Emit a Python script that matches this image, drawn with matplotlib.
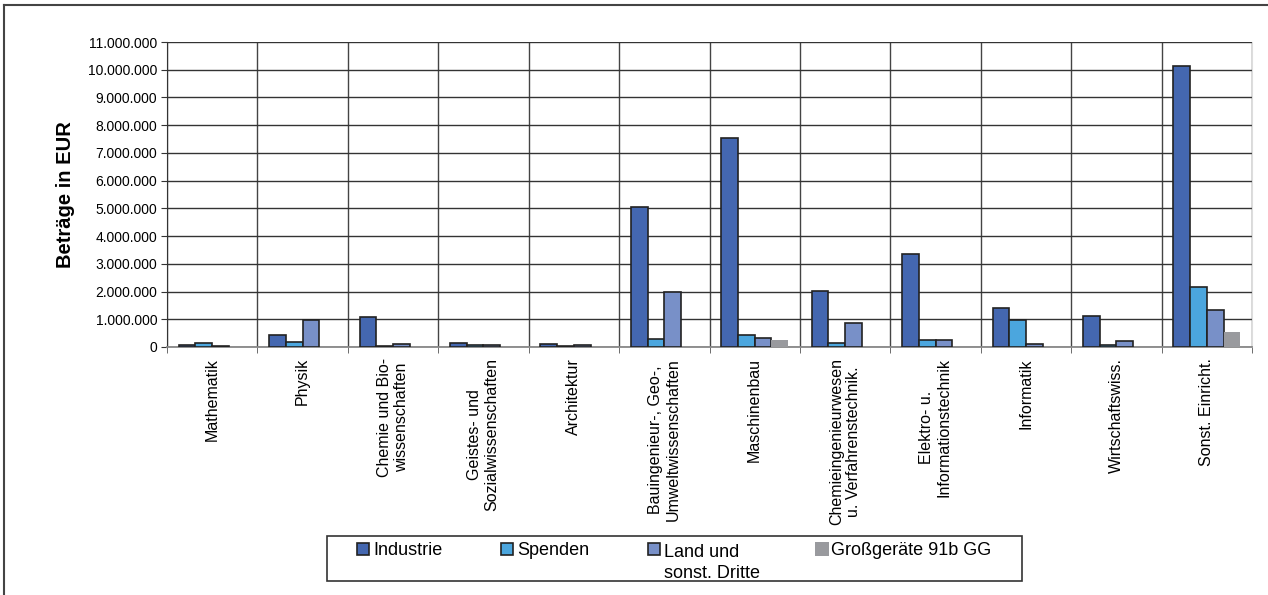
import numpy as np
import matplotlib
matplotlib.use("Agg")
import matplotlib.pyplot as plt
from matplotlib.ticker import FuncFormatter, MultipleLocator, FixedLocator
from matplotlib.patches import Rectangle
from matplotlib.lines import Line2D

plt.rcParams['font.family'] = ['Liberation Sans', 'DejaVu Sans']

kategorien = ["Mathematik", "Physik", "Chemie und Bio-\nwissenschaften",
              "Geistes- und\nSozialwissenschaften", "Architektur",
              "Bauingenieur-, Geo-,\nUmweltwissenschaften", "Maschinenbau",
              "Chemieingenieurwesen\nu. Verfahrenstechnik.",
              "Elektro- u.\nInformationstechnik", "Informatik",
              "Wirtschaftswiss.", "Sonst. Einricht."]

industrie = [60000, 430000, 1090000, 150000, 120000, 5040000, 7550000,
             2020000, 3350000, 1410000, 1130000, 10120000]
spenden = [160000, 170000, 30000, 80000, 40000, 300000, 430000,
           130000, 260000, 970000, 80000, 2150000]
land = [30000, 970000, 120000, 70000, 90000, 1970000, 340000,
        880000, 260000, 120000, 200000, 1330000]
grossgeraete = [0, 0, 0, 0, 0, 0, 260000, 0, 0, 0, 0, 540000]

serien = ["Industrie", "Spenden", "Land und\nsonst. Dritte", "Großgeräte 91b GG"]
farben = ['#4467B0', '#4BA6DE', '#7890C8', '#999A9E']

W, H = 1268, 595
fig = plt.figure(figsize=(W/100, H/100), dpi=100)
ax = fig.add_axes([167/W, 1-347/H, (1252-167)/W, 305/H])

def px(x, y):
    # Pixel (von oben links) -> Figurkoordinaten
    return x/W, 1-y/H

x = np.arange(len(kategorien))
w = 0.185
werte = [industrie, spenden, land, grossgeraete]
for i, (v, c) in enumerate(zip(werte, farben)):
    if i < 3:
        ax.bar(x + (i-1.5)*w, v, w, color=c, edgecolor='#222222', linewidth=1.2, zorder=3)
    else:
        ax.bar(x + (i-1.5)*w, v, w, color=c, linewidth=0, zorder=3)

ax.set_xlim(-0.5, len(kategorien)-0.5)
ax.set_ylim(0, 11000000)
ax.yaxis.set_major_locator(MultipleLocator(1000000))
ax.yaxis.set_major_formatter(FuncFormatter(lambda v, p: f"{int(v):,}".replace(',', '.')))
ax.tick_params(axis='y', labelsize=10, length=4, color='#333333', pad=3)

ax.set_xticks(x)
ax.set_xticklabels(kategorien, rotation=90, ha='center', va='top',
                   multialignment='center', fontsize=11.5)
ax.xaxis.set_minor_locator(FixedLocator(np.arange(-0.5, len(kategorien), 1)))
ax.tick_params(axis='x', which='major', length=0, pad=8)
ax.tick_params(axis='x', which='minor', length=4, color='#555555')

ax.grid(axis='y', which='major', color='#333333', linewidth=1.0, zorder=0)
ax.grid(axis='x', which='minor', color='#444444', linewidth=1.0, zorder=0)
ax.set_axisbelow(True)

ax.spines['top'].set_visible(False)
ax.spines['right'].set_color('#dddddd')
ax.spines['bottom'].set_color('#888888')
ax.spines['bottom'].set_linewidth(1.3)
ax.spines['left'].set_color('#333333')

ax.set_ylabel("Beträge in EUR", fontsize=14.5, fontweight='bold')
ax.yaxis.set_label_coords((75-167)/1085, 0.5)

# Legende
x0, y0 = px(327, 581)
x1, y1 = px(1022, 536)
fig.add_artist(Rectangle((x0, y0), x1-x0, y1-y0, transform=fig.transFigure,
                         facecolor='white', edgecolor='#333333', linewidth=1.2))
leg_x = [357, 501, 648, 815]
for i, (name, c) in enumerate(zip(serien, farben)):
    if i < 3:
        hx, hy = px(leg_x[i], 555)
        fig.add_artist(Rectangle((hx, hy), 12/W, 12/H, transform=fig.transFigure,
                                 facecolor=c, edgecolor='#222222', linewidth=1.2))
    else:
        hx, hy = px(leg_x[i], 556)
        fig.add_artist(Rectangle((hx, hy), 14/W, 14/H, transform=fig.transFigure,
                                 facecolor=c, linewidth=0))
    n_zeilen = name.count('\n')
    # 'baseline' bezieht sich bei mehrzeiligem Text auf die letzte Zeile
    tx, ty = px(leg_x[i] + 16, 555 + n_zeilen*23)
    fig.text(tx, ty, name, fontsize=13, ha='left', va='baseline', linespacing=1.28)

# Rahmen um die Grafik
fig.add_artist(Line2D([3.5/W, 3.5/W], [0, 1-5/H], color='#444444', linewidth=1.5))
fig.add_artist(Line2D([3.5/W, 1], [1-5/H, 1-5/H], color='#444444', linewidth=1.5))

fig.savefig("out.png", dpi=100)
